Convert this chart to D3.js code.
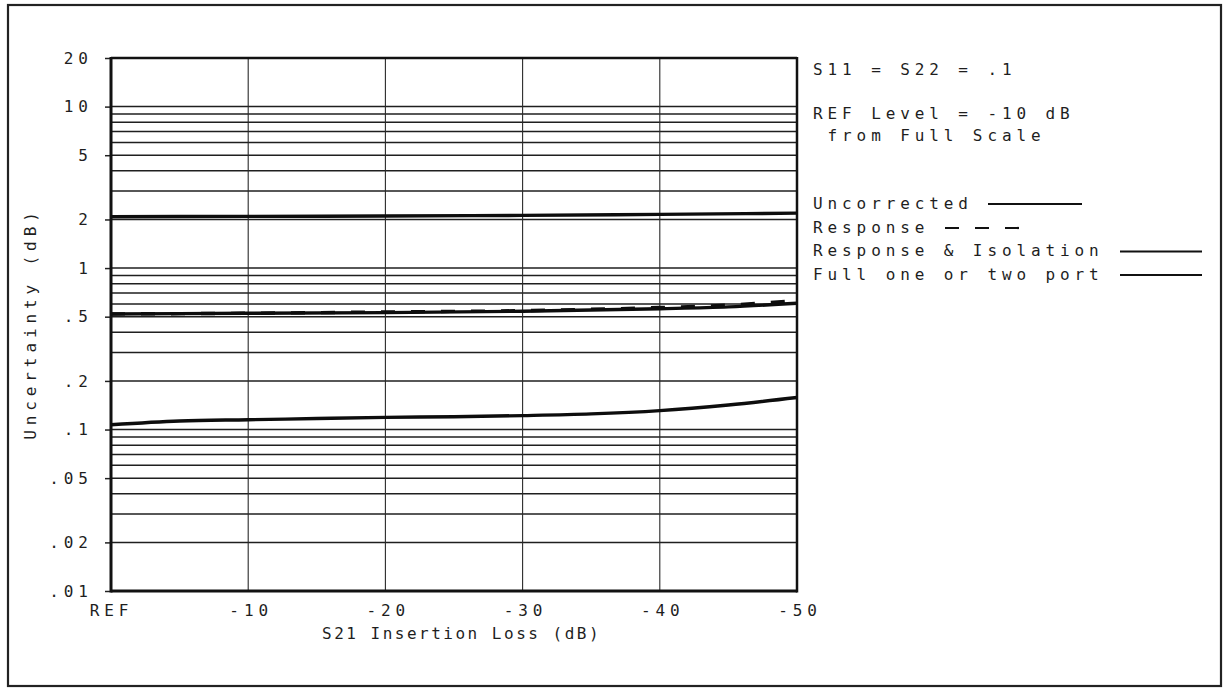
<!DOCTYPE html>
<meta charset="utf-8">
<script src="https://d3js.org/d3.v7.min.js"></script>
<style>
    body { margin: 0; background: #fff; }
    .hp { font-family: "DejaVu Sans Mono", monospace; font-size: 16px; letter-spacing: 4.9px; fill: #1e1e1e; }
</style>
<svg width="1227" height="688"></svg>
<script>

// x: S21 insertion loss, dB (REF = 0)
var lossSteps = [0, -10, -20, -30, -40, -50];
var xTickLabels = ["REF", "-10", "-20", "-30", "-40", "-50"];

var yTicks = [20, 10, 5, 2, 1, .5, .2, .1, .05, .02, .01];
var yTickLabels = ["20", "10", "5", "2", "1", ".5", ".2", ".1", ".05", ".02", ".01"];

// curves
var uncorrectedLoss = [0, -10, -20, -30, -40, -50];
var uncorrected = [2.08, 2.09, 2.10, 2.12, 2.15, 2.19];

var responseLoss = [0, -10, -20, -30, -40, -45, -50];
var response = [0.52, 0.525, 0.535, 0.545, 0.57, 0.59, 0.63];

var respIsoLoss = [0, -10, -20, -30, -40, -45, -50];
var respIso = [0.52, 0.525, 0.53, 0.54, 0.56, 0.575, 0.605];

var fullLoss = [0, -5, -10, -15, -20, -25, -30, -35, -40, -45, -50];
var full = [0.107, 0.113, 0.115, 0.117, 0.119, 0.120, 0.122, 0.125, 0.131, 0.142, 0.158];

var legendNames = ["Uncorrected", "Response", "Response & Isolation", "Full one or two port"];
var noteLines = ["S11 = S22 = .1", "REF Level = -10 dB", " from Full Scale"];

var LS = 4.9; // letter spacing, to re-center anchored text

var svg = d3.select("svg");

// page border
svg.append("rect")
    .attr("x", 8).attr("y", 5)
    .attr("width", 1213).attr("height", 681)
    .attr("fill", "none")
    .attr("stroke", "#222")
    .attr("stroke-width", 2.2);

var x = d3.scaleLinear().domain([0, -50]).range([111, 797]);
var y = d3.scaleLog().domain([0.01, 20]).range([591, 58]);

// horizontal grid: 1..9 per decade
var grid = [];
[0.01, 0.1, 1, 10].forEach(function(d){
    d3.range(1, 10).forEach(function(k){
        var v = +(k * d).toPrecision(3);
        if (v > 0.01 && v < 20) grid.push(v);
    });
});

svg.append("g").selectAll("line.h")
    .data(grid)
    .enter().append("line")
    .attr("x1", x(0)).attr("x2", x(-50))
    .attr("y1", function(d){ return y(d); })
    .attr("y2", function(d){ return y(d); })
    .attr("stroke", "#1f1f1f")
    .attr("stroke-width", 1.5);

svg.append("g").selectAll("line.v")
    .data(lossSteps.slice(1, -1))
    .enter().append("line")
    .attr("x1", function(d){ return x(d); })
    .attr("x2", function(d){ return x(d); })
    .attr("y1", y(20)).attr("y2", y(0.01))
    .attr("stroke", "#2a2a2a")
    .attr("stroke-width", 1.1);

// axes
var yAxis = d3.axisLeft(y)
    .tickValues(yTicks)
    .tickFormat(function(d, i){ return yTickLabels[i]; })
    .tickSize(6)
    .tickPadding(17);

var gy = svg.append("g")
    .attr("transform", "translate(" + x(0) + ",0)")
    .call(yAxis);
gy.select(".domain").remove();
gy.selectAll(".tick line").attr("stroke", "#222").attr("stroke-width", 1.5);
gy.selectAll(".tick text")
    .attr("class", "hp")
    .attr("font-family", null).attr("font-size", null)
    .attr("dx", LS)
    .attr("fill", null);

var xAxis = d3.axisBottom(x)
    .tickValues(lossSteps)
    .tickFormat(function(d, i){ return xTickLabels[i]; })
    .tickSize(0)
    .tickPadding(14);

var gx = svg.append("g")
    .attr("transform", "translate(0," + y(0.01) + ")")
    .call(xAxis);
gx.select(".domain").remove();
gx.selectAll(".tick text")
    .attr("class", "hp")
    .attr("font-family", null).attr("font-size", null)
    .attr("fill", null)
    .attr("dx", function(d){ return d === 0 ? 0 : LS / 2; });

// plot frame
var frame = svg.append("g").attr("stroke", "#111").attr("fill", "none");
frame.append("line").attr("x1", x(0)).attr("x2", x(0)).attr("y1", y(20) - 1).attr("y2", y(0.01) + 1.5).attr("stroke-width", 3);
frame.append("line").attr("x1", x(0)).attr("x2", x(-50)).attr("y1", y(0.01)).attr("y2", y(0.01)).attr("stroke-width", 3);
frame.append("line").attr("x1", x(0)).attr("x2", x(-50)).attr("y1", y(20)).attr("y2", y(20)).attr("stroke-width", 2.5);
frame.append("line").attr("x1", x(-50)).attr("x2", x(-50)).attr("y1", y(20) - 1).attr("y2", y(0.01) + 1.5).attr("stroke-width", 2.5);

// curves
var line = d3.line()
    .x(function(d){ return x(d[0]); })
    .y(function(d){ return y(d[1]); })
    .curve(d3.curveMonotoneX);

function pairs(xs, ys){ return xs.map(function(v, i){ return [v, ys[i]]; }); }

var curves = [
    { data: pairs(uncorrectedLoss, uncorrected), dash: null },
    { data: pairs(respIsoLoss, respIso), dash: null },
    { data: pairs(responseLoss, response), dash: "14,16" },
    { data: pairs(fullLoss, full), dash: null }
];

svg.append("g").selectAll("path.curve")
    .data(curves)
    .enter().append("path")
    .attr("fill", "none")
    .attr("stroke", "#0d0d0d")
    .attr("stroke-width", 3.4)
    .attr("stroke-dasharray", function(d){ return d.dash; })
    .attr("d", function(d){ return line(d.data); });

// axis titles
svg.append("text")
    .attr("class", "hp")
    .attr("x", 322)
    .attr("y", 639)
    .style("letter-spacing", "2.5px")
    .text("S21 Insertion Loss (dB)");

svg.append("text")
    .attr("class", "hp")
    .attr("transform", "translate(36,326) rotate(-90)")
    .attr("x", LS / 2)
    .attr("text-anchor", "middle")
    .text("Uncertainty (dB)");

// notes at the right
var noteY = [69, 113, 135];
svg.append("g").selectAll("text")
    .data(noteLines)
    .enter().append("text")
    .attr("class", "hp")
    .attr("x", 813)
    .attr("y", function(d, i){ return noteY[i]; })
    .attr("dy", "0.35em")
    .attr("xml:space", "preserve")
    .style("white-space", "pre")
    .text(function(d){ return d; });

// legend
var legendY = [203, 227, 250.5, 274];
var legendLine = [[988, 1082, null], [945, 1022, "14,16"], [1120, 1202, null], [1120, 1202, null]];

var lg = svg.append("g");
lg.selectAll("text")
    .data(legendNames)
    .enter().append("text")
    .attr("class", "hp")
    .attr("x", 813)
    .attr("y", function(d, i){ return legendY[i]; })
    .attr("dy", "0.35em")
    .text(function(d){ return d; });

lg.selectAll("line")
    .data(legendLine)
    .enter().append("line")
    .attr("x1", function(d){ return d[0]; })
    .attr("x2", function(d){ return d[1]; })
    .attr("y1", function(d, i){ return legendY[i] + 1; })
    .attr("y2", function(d, i){ return legendY[i] + 1; })
    .attr("stroke", "#111")
    .attr("stroke-width", 2.2)
    .attr("stroke-dasharray", function(d){ return d[2]; });

</script>
